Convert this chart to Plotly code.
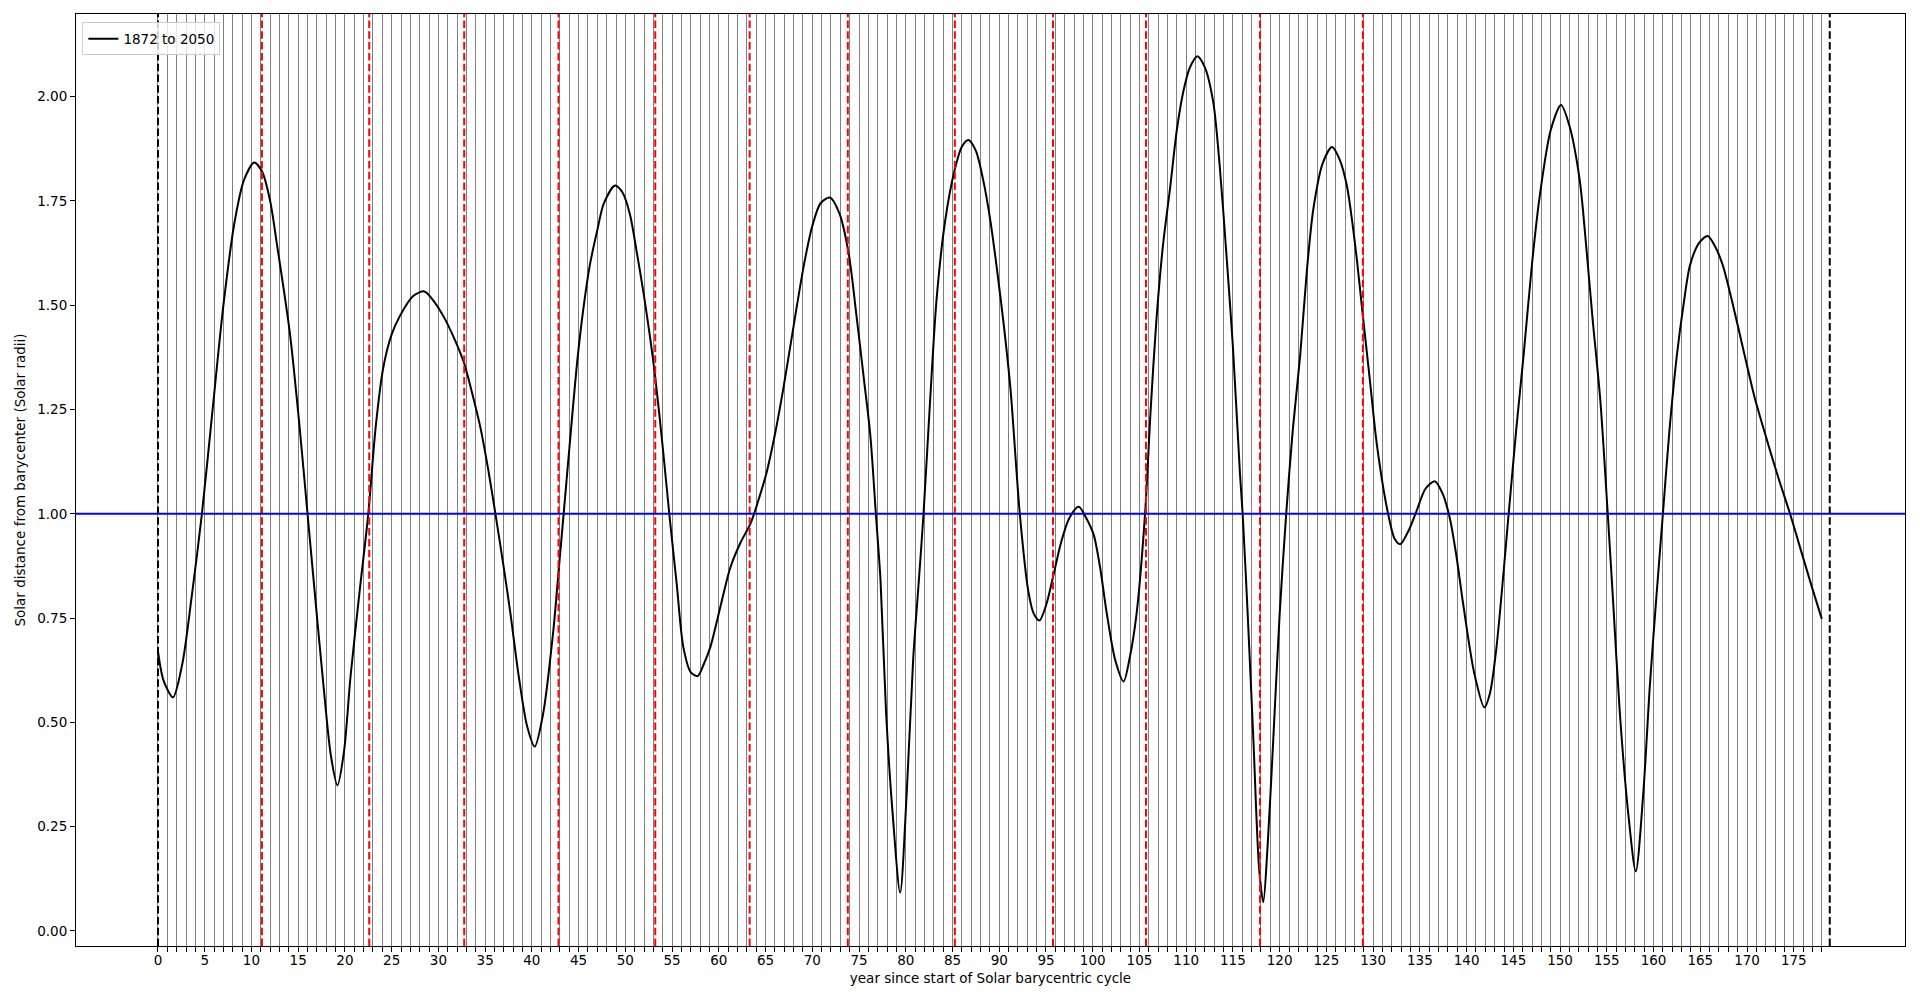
import plotly.graph_objects as go

# ---- data ----
years = [0.0, 0.6, 1.6, 2.6, 3.6, 4.7, 5.8, 7.0, 8.2, 9.2, 10.3, 11.15, 12.0, 12.7, 14.1, 15.1, 16.0, 16.9, 17.7,
         18.5, 19.2, 19.9, 20.6, 21.6, 22.5, 23.3, 24.1, 25.0, 25.9, 27.3, 28.5, 29.5, 30.5, 31.7, 32.75, 33.6,
         34.5, 35.3, 36.1, 37.0, 37.7, 38.6, 39.5, 40.3, 41.2, 42.3, 42.85, 43.4, 44.1, 44.8, 45.5, 46.2, 47.0,
         47.7, 48.9, 49.7, 50.5, 51.2, 51.95, 52.6, 53.2, 54.0, 54.7, 55.5, 56.2, 57.0, 57.75, 58.4, 59.1, 60.2,
         61.2, 62.3, 63.4, 64.2, 65.1, 66.0, 66.9, 68.0, 69.1, 70.0, 70.9, 71.9, 72.9, 73.9, 74.7, 75.5, 76.2,
         76.8, 77.3, 77.9, 78.6, 79.4, 80.1, 80.8, 81.4, 81.9, 82.6, 83.3, 84.2, 85.24, 86.0, 86.7, 87.5, 88.3,
         89.0, 89.7, 90.5, 91.2, 92.2, 93.1, 93.7, 94.3, 95.0, 95.7, 96.6, 97.5, 98.5, 99.3, 100.1, 100.8, 101.5,
         102.4, 103.3, 104.0, 104.7, 105.6, 106.2, 106.8, 107.5, 108.3, 109.0, 109.7, 110.4, 111.2, 112.0, 112.9,
         113.6, 114.3, 115.0, 115.75, 116.04, 116.6, 117.2, 117.8, 118.25, 118.7, 119.3, 120.0, 120.7, 121.4,
         122.2, 122.9, 123.6, 124.6, 125.6, 126.4, 127.2, 128.1, 128.9, 129.7, 130.4, 131.6, 132.3, 132.9, 133.8,
         134.6, 135.6, 136.6, 137.4, 138.2, 138.9, 139.6, 140.8, 141.9, 142.5, 143.2, 144.5, 145.3, 146.1, 147.0,
         147.8, 149.0, 150.1, 151.0, 152.1, 152.8, 153.5, 154.3, 155.1, 155.7, 156.4, 157.3, 158.1, 158.9, 159.6,
         160.3, 161.0, 161.7, 162.5, 163.2, 163.9, 164.9, 165.8, 166.6, 167.4, 168.5, 169.6, 170.8, 172.1, 173.3,
         174.6, 175.8, 177.0, 178.0]
distance = [0.67, 0.60, 0.56, 0.64, 0.80, 1.00, 1.24, 1.50, 1.70, 1.80, 1.842, 1.82, 1.75, 1.65, 1.435, 1.22, 1.00,
            0.78, 0.59, 0.42, 0.349, 0.43, 0.61, 0.82, 1.00, 1.21, 1.35, 1.43, 1.475, 1.522, 1.533, 1.51, 1.475,
            1.42, 1.361, 1.29, 1.206, 1.11, 1.00, 0.87, 0.762, 0.61, 0.49, 0.442, 0.52, 0.721, 0.86, 1.00, 1.18,
            1.354, 1.49, 1.596, 1.68, 1.744, 1.787, 1.77, 1.717, 1.63, 1.529, 1.43, 1.327, 1.16, 1.00, 0.83, 0.681,
            0.62, 0.611, 0.64, 0.681, 0.78, 0.869, 0.93, 0.977, 1.03, 1.098, 1.19, 1.30, 1.45, 1.596, 1.69, 1.745,
            1.758, 1.72, 1.623, 1.48, 1.327, 1.19, 1.00, 0.84, 0.52, 0.28, 0.092, 0.33, 0.654, 0.84, 1.00, 1.27,
            1.515, 1.70, 1.825, 1.88, 1.896, 1.87, 1.798, 1.71, 1.596, 1.45, 1.30, 1.00, 0.816, 0.76, 0.744, 0.78,
            0.843, 0.93, 0.99, 1.017, 0.99, 0.95, 0.87, 0.762, 0.65, 0.598, 0.66, 0.762, 1.00, 1.25, 1.46, 1.64,
            1.785, 1.92, 2.013, 2.07, 2.097, 2.07, 1.986, 1.83, 1.623, 1.40, 1.098, 1.00, 0.75, 0.452, 0.15, 0.069,
            0.20, 0.452, 0.76, 1.00, 1.20, 1.381, 1.58, 1.73, 1.84, 1.879, 1.85, 1.785, 1.64, 1.475, 1.31, 1.166,
            1.00, 0.94, 0.927, 0.96, 1.004, 1.06, 1.078, 1.05, 0.99, 0.90, 0.789, 0.62, 0.536, 0.57, 0.681, 1.00,
            1.20, 1.381, 1.60, 1.758, 1.92, 1.98, 1.93, 1.80, 1.64, 1.462, 1.273, 1.00, 0.78, 0.52, 0.28, 0.143,
            0.33, 0.587, 0.80, 1.00, 1.20, 1.381, 1.50, 1.596, 1.65, 1.666, 1.64, 1.596, 1.50, 1.394, 1.28, 1.179,
            1.09, 1.00, 0.91, 0.82, 0.748]

cycle_marks = [11.12, 22.6, 32.76, 42.85, 53.2, 63.3, 73.8, 85.25, 95.75, 105.7, 117.9, 128.9]
cycle_bounds = [0.0, 178.85]
unit_radius = 1.0
year_ticks = list(range(0, 179))
year_labels = [str(y) if y % 5 == 0 else "" for y in year_ticks]
dist_ticks = [0.0, 0.25, 0.5, 0.75, 1.0, 1.25, 1.5, 1.75, 2.0]
series_name = "1872 to 2050"

FONT = "DejaVu Sans"
fig = go.Figure()

fig.add_trace(go.Scatter(
    x=years, y=distance, mode="lines", name=series_name,
    line=dict(color="black", width=2, shape="spline", smoothing=0.8),
))

shapes = []
dash = "7.5px,3.3px"
for xm in cycle_marks:
    shapes.append(dict(type="line", xref="x", yref="paper", x0=xm, x1=xm, y0=0, y1=1,
                       line=dict(color="red", width=2, dash=dash), layer="above"))
for xb in cycle_bounds:
    shapes.append(dict(type="line", xref="x", yref="paper", x0=xb, x1=xb, y0=0, y1=1,
                       line=dict(color="black", width=2, dash=dash), layer="above"))
shapes.append(dict(type="line", xref="paper", yref="y", x0=0, x1=1, y0=unit_radius, y1=unit_radius,
                   line=dict(color="blue", width=2), layer="above"))

# page body has an 8px default margin, so the figure is shifted by 8px
fig.update_layout(
    width=1904, height=987,
    margin=dict(l=68, r=7, t=6, b=49, autoexpand=False),
    paper_bgcolor="white", plot_bgcolor="white",
    font=dict(family=FONT, size=13.5, color="black"),
    shapes=shapes,
    showlegend=True,
    legend=dict(x=0.0035, y=0.991, xanchor="left", yanchor="top",
                bgcolor="rgba(255,255,255,0.8)", bordercolor="#cccccc", borderwidth=1,
                font=dict(family=FONT, size=13.5, color="black"), itemwidth=30,
                tracegroupgap=0),
    xaxis=dict(
        range=[-8.77, 186.9], tickmode="array", tickvals=year_ticks, ticktext=year_labels,
        ticks="outside", ticklen=5, tickwidth=1, tickcolor="black",
        showgrid=True, gridcolor="#808080", gridwidth=1, zeroline=False,
        showline=True, linecolor="black", linewidth=1, mirror=True,
        title=dict(text="year since start of Solar barycentric cycle", standoff=6,
                   font=dict(family=FONT, size=13.5)),
        tickfont=dict(family=FONT, size=13.5), tickangle=0, ticklabelstandoff=-3,
    ),
    yaxis=dict(
        range=[-0.036, 2.198], tickmode="array", tickvals=dist_ticks,
        ticktext=[f"{v:.2f}" for v in dist_ticks],
        ticks="outside", ticklen=5, tickwidth=1, tickcolor="black",
        showgrid=False, zeroline=False,
        showline=True, linecolor="black", linewidth=1, mirror=True,
        title=dict(text="Solar distance from barycenter (Solar radii)", standoff=8,
                   font=dict(family=FONT, size=13.5)),
        tickfont=dict(family=FONT, size=13.5),
    ),
)

fig.write_html("out.html")
